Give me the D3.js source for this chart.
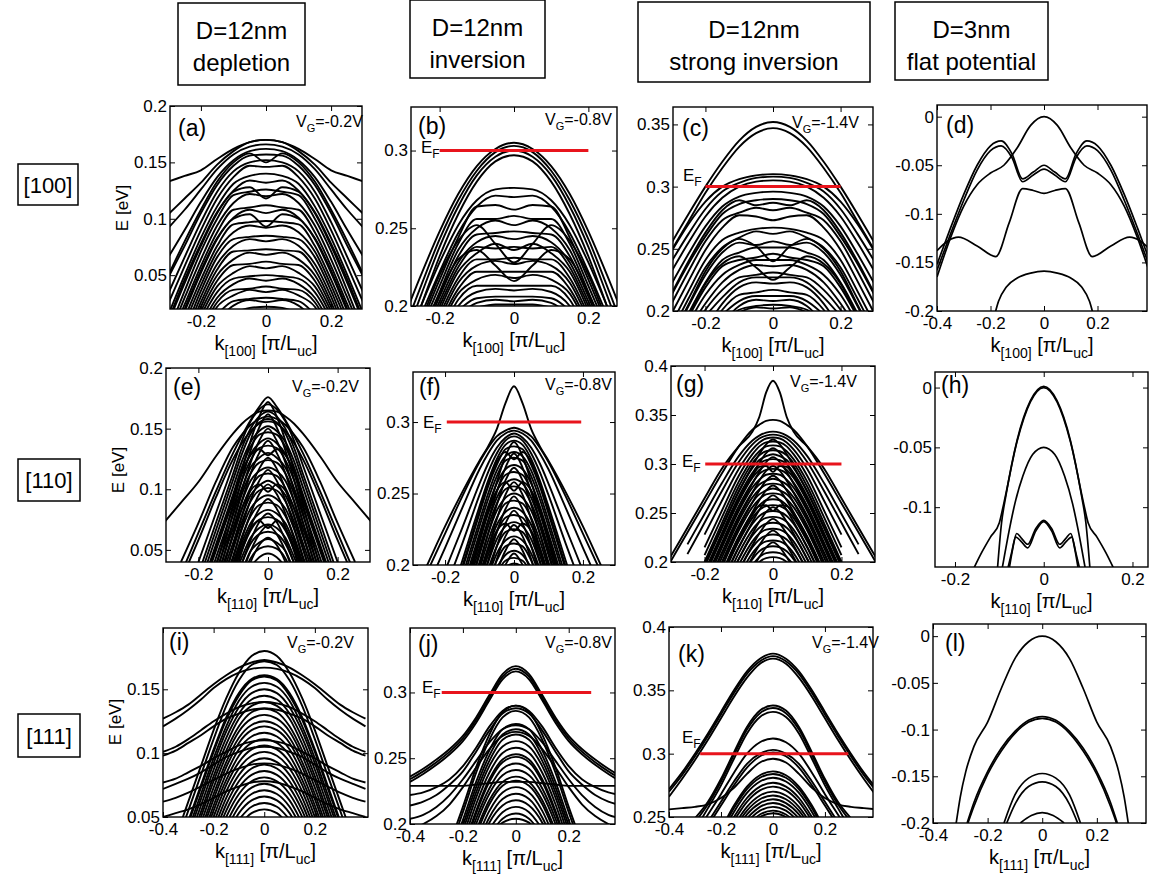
<!DOCTYPE html>
<html>
<head>
<meta charset="utf-8">
<script src="https://cdn.jsdelivr.net/npm/d3@7"></script>
<style>
body { margin: 0; background: #fff; }
svg { font-family: "Liberation Sans", Arial, sans-serif; }
</style>
</head>
<body>
<div id="chart"></div>
<script>
// ---- text ----
const columnTitles = [['D=12nm', 'depletion'], ['D=12nm', 'inversion'], ['D=12nm', 'strong inversion'], ['D=3nm', 'flat potential']];
const rowLabels = ['[100]', '[110]', '[111]'];
const gateVoltages = ['-0.2V', '-0.8V', '-1.4V'];
const fermiLevel = 0.3;

// ---- ticks ----
const kTicks3 = [-0.2, 0, 0.2];
const kTicks4 = [-0.4, -0.2, 0, 0.2];

// ---- bands: energies (eV) on a half k grid, k >= 0, bands are symmetric in k ----
const kGridA = [0, 0.05, 0.1, 0.15, 0.2, 0.25, 0.3];
const bandsA = [
  [0.170, 0.168, 0.162, 0.153, 0.143, 0.138, 0.133],
  [0.170, 0.168, 0.160, 0.148, 0.132, 0.118, 0.104],
  [0.166, 0.164, 0.157, 0.144, 0.126, 0.108, 0.092],
  [0.162, 0.160, 0.152, 0.137, 0.115, 0.090, 0.066],
  [0.157, 0.156, 0.147, 0.130, 0.105, 0.076, 0.048],
  [0.152, 0.150, 0.142, 0.124, 0.097, 0.066, 0.034],
  [0.150, 0.158, 0.150, 0.133, 0.108, 0.080, 0.050],
  [0.146, 0.147, 0.137, 0.118, 0.090, 0.058, 0.025],
  [0.140, 0.138, 0.131, 0.111, 0.083, 0.050, 0.015],
  [0.132, 0.134, 0.125, 0.105, 0.076, 0.043, 0.008],
  [0.126, 0.124, 0.121, 0.100, 0.071, 0.036, 0.000],
  [0.118, 0.128, 0.124, 0.106, 0.078, 0.046, 0.010],
  [0.120, 0.122, 0.114, 0.094, 0.064, 0.030, -0.005],
  [0.112, 0.110, 0.108, 0.088, 0.058, 0.024, -0.010],
  [0.105, 0.108, 0.101, 0.082, 0.052, 0.018, -0.015],
  [0.093, 0.104, 0.100, 0.083, 0.054, 0.020, -0.015],
  [0.098, 0.097, 0.095, 0.076, 0.046, 0.012],
  [0.092, 0.094, 0.088, 0.071, 0.041, 0.007],
  [0.085, 0.084, 0.082, 0.066, 0.036, 0.000],
  [0.080, 0.082, 0.076, 0.060, 0.031, -0.005],
  [0.073, 0.072, 0.071, 0.055, 0.026, -0.010],
  [0.068, 0.070, 0.064, 0.050, 0.022, -0.015],
  [0.062, 0.060, 0.059, 0.045, 0.018],
  [0.056, 0.058, 0.052, 0.040, 0.014],
  [0.050, 0.049, 0.047, 0.035, 0.010],
  [0.045, 0.047, 0.042, 0.030, 0.005],
  [0.040, 0.038, 0.037, 0.026, 0.000],
  [0.035, 0.037, 0.032, 0.022, -0.005],
  [0.030, 0.029, 0.027, 0.015],
  [0.026, 0.028, 0.023, 0.010],
  [0.022, 0.021, 0.016]
];

const kGridB = [0, 0.05, 0.1, 0.15, 0.2, 0.25, 0.3];
const bandsB = [
  [0.305, 0.301, 0.290, 0.272, 0.248, 0.220, 0.190],
  [0.303, 0.299, 0.287, 0.268, 0.243, 0.213, 0.182],
  [0.300, 0.296, 0.284, 0.264, 0.238, 0.207, 0.175],
  [0.297, 0.293, 0.280, 0.259, 0.232, 0.200, 0.168],
  [0.276, 0.275, 0.268, 0.252, 0.228, 0.200, 0.170],
  [0.270, 0.271, 0.264, 0.247, 0.222, 0.194],
  [0.262, 0.265, 0.264, 0.244, 0.217, 0.188],
  [0.228, 0.240, 0.252, 0.242, 0.220, 0.190],
  [0.258, 0.256, 0.256, 0.240, 0.213, 0.185],
  [0.252, 0.255, 0.250, 0.236, 0.209, 0.180],
  [0.248, 0.247, 0.246, 0.232, 0.206, 0.178],
  [0.243, 0.245, 0.241, 0.228, 0.203, 0.175],
  [0.238, 0.237, 0.238, 0.225, 0.200, 0.172],
  [0.236, 0.240, 0.234, 0.222, 0.197],
  [0.216, 0.226, 0.236, 0.230, 0.208, 0.182],
  [0.231, 0.230, 0.230, 0.218, 0.194],
  [0.227, 0.229, 0.226, 0.215, 0.191],
  [0.222, 0.222, 0.222, 0.211, 0.188],
  [0.218, 0.220, 0.217, 0.208, 0.185],
  [0.213, 0.213, 0.213, 0.204, 0.180],
  [0.210, 0.211, 0.209, 0.200, 0.178],
  [0.206, 0.206, 0.205, 0.197],
  [0.203, 0.204, 0.202, 0.194],
  [0.201, 0.201, 0.199]
];

const kGridC = [0, 0.05, 0.1, 0.15, 0.2, 0.25, 0.3];
const bandsC = [
  [0.352, 0.348, 0.337, 0.320, 0.300, 0.278, 0.255],
  [0.347, 0.343, 0.332, 0.315, 0.295, 0.272, 0.249],
  [0.310, 0.309, 0.306, 0.300, 0.288, 0.270, 0.248],
  [0.308, 0.307, 0.303, 0.296, 0.282, 0.262, 0.240],
  [0.305, 0.304, 0.300, 0.291, 0.276, 0.255, 0.232],
  [0.296, 0.295, 0.292, 0.284, 0.268, 0.246, 0.222],
  [0.290, 0.289, 0.286, 0.278, 0.260, 0.238, 0.213],
  [0.287, 0.285, 0.289, 0.281, 0.263, 0.240, 0.214],
  [0.281, 0.283, 0.279, 0.273, 0.256, 0.232, 0.206],
  [0.273, 0.276, 0.277, 0.267, 0.249, 0.224, 0.198],
  [0.267, 0.266, 0.263, 0.257, 0.241, 0.216, 0.190],
  [0.262, 0.264, 0.259, 0.251, 0.235, 0.210, 0.184],
  [0.240, 0.252, 0.258, 0.250, 0.232, 0.205, 0.180],
  [0.256, 0.253, 0.255, 0.247, 0.229, 0.204, 0.178],
  [0.251, 0.251, 0.247, 0.241, 0.223, 0.198],
  [0.246, 0.243, 0.241, 0.236, 0.219, 0.195],
  [0.241, 0.241, 0.237, 0.229, 0.213, 0.190],
  [0.225, 0.235, 0.244, 0.238, 0.222, 0.196],
  [0.236, 0.237, 0.233, 0.223, 0.206, 0.185],
  [0.231, 0.229, 0.227, 0.217, 0.201, 0.180],
  [0.227, 0.227, 0.223, 0.211, 0.196],
  [0.222, 0.223, 0.219, 0.206, 0.185],
  [0.217, 0.215, 0.213, 0.201, 0.180],
  [0.212, 0.212, 0.208, 0.197],
  [0.208, 0.209, 0.204, 0.190],
  [0.205, 0.204, 0.201, 0.188],
  [0.202, 0.203, 0.199]
];

// sparse panels: explicit [k, E] pairs for k >= 0
const bandsD = [
  [[0, 0], [0.05, -0.009], [0.1, -0.032], [0.15, -0.05], [0.2, -0.058], [0.25, -0.07], [0.3, -0.092], [0.35, -0.125], [0.4, -0.165]],
  [[0, -0.05], [0.04, -0.057], [0.08, -0.064], [0.12, -0.038], [0.16, -0.025], [0.2, -0.03], [0.25, -0.05], [0.3, -0.08], [0.35, -0.115], [0.4, -0.152]],
  [[0, -0.054], [0.04, -0.06], [0.08, -0.067], [0.12, -0.042], [0.16, -0.03], [0.2, -0.035], [0.25, -0.055], [0.3, -0.086], [0.35, -0.121], [0.4, -0.158]],
  [[0, -0.079], [0.04, -0.076], [0.08, -0.074], [0.13, -0.109], [0.18, -0.144], [0.25, -0.133], [0.32, -0.124], [0.36, -0.128], [0.4, -0.138]],
  [[0, -0.159], [0.05, -0.161], [0.1, -0.166], [0.14, -0.175], [0.17, -0.19], [0.19, -0.21]]
];

const kGridE = [0, 0.025, 0.05, 0.075, 0.1, 0.15, 0.2, 0.25, 0.3];
const bandsE = [
  [0.165, 0.164, 0.160, 0.154, 0.146, 0.127, 0.106, 0.089, 0.072],
  [0.160, 0.158, 0.153, 0.145, 0.135, 0.106, 0.072, 0.040],
  [0.156, 0.154, 0.148, 0.138, 0.125, 0.093, 0.058, 0.025],
  [0.176, 0.168, 0.157, 0.144, 0.130, 0.098, 0.064, 0.030],
  [0.170, 0.166, 0.156, 0.140, 0.120, 0.080, 0.040],
  [0.164, 0.160, 0.150, 0.134, 0.113, 0.072, 0.030],
  [0.158, 0.155, 0.146, 0.129, 0.108, 0.066, 0.024],
  [0.152, 0.148, 0.139, 0.123, 0.102, 0.060, 0.018],
  [0.147, 0.145, 0.135, 0.118, 0.096, 0.054, 0.012],
  [0.142, 0.138, 0.129, 0.113, 0.091, 0.049, 0.007],
  [0.136, 0.134, 0.124, 0.107, 0.085, 0.043, 0.000],
  [0.128, 0.133, 0.128, 0.114, 0.094, 0.052, 0.010],
  [0.130, 0.126, 0.118, 0.101, 0.079, 0.038],
  [0.124, 0.122, 0.113, 0.096, 0.073, 0.032],
  [0.118, 0.115, 0.107, 0.090, 0.068, 0.026],
  [0.113, 0.111, 0.101, 0.084, 0.062, 0.020],
  [0.107, 0.103, 0.095, 0.078, 0.056, 0.014],
  [0.098, 0.104, 0.099, 0.084, 0.062, 0.020],
  [0.101, 0.099, 0.090, 0.073, 0.051, 0.010],
  [0.095, 0.092, 0.084, 0.067, 0.045, 0.004],
  [0.089, 0.087, 0.078, 0.061, 0.039],
  [0.083, 0.080, 0.072, 0.056, 0.038],
  [0.077, 0.075, 0.066, 0.050, 0.032],
  [0.068, 0.074, 0.068, 0.053, 0.034],
  [0.071, 0.068, 0.060, 0.044, 0.026],
  [0.065, 0.063, 0.055, 0.039],
  [0.059, 0.056, 0.049, 0.032],
  [0.053, 0.051, 0.043, 0.026],
  [0.047, 0.044, 0.036],
  [0.172, 0.160, 0.140, 0.115, 0.088, 0.035],
  [0.162, 0.151, 0.132, 0.108, 0.081, 0.028],
  [0.150, 0.140, 0.122, 0.099, 0.073, 0.020],
  [0.140, 0.130, 0.113, 0.090, 0.064, 0.012],
  [0.126, 0.117, 0.100, 0.078, 0.052, 0.000],
  [0.116, 0.107, 0.091, 0.069, 0.043, 0.000],
  [0.104, 0.096, 0.080, 0.059, 0.034],
  [0.092, 0.084, 0.069, 0.049, 0.024],
  [0.080, 0.073, 0.058, 0.039],
  [0.070, 0.063, 0.049, 0.030],
  [0.060, 0.054, 0.040, 0.020]
];

const kGridF = [0, 0.025, 0.05, 0.075, 0.1, 0.15, 0.2, 0.25, 0.3];
const bandsF = [
  [0.325, 0.313, 0.295, 0.283, 0.273, 0.251, 0.227, 0.201, 0.175],
  [0.296, 0.294, 0.290, 0.282, 0.272, 0.248, 0.222, 0.196, 0.170],
  [0.294, 0.292, 0.287, 0.278, 0.267, 0.240, 0.212, 0.185],
  [0.292, 0.289, 0.282, 0.271, 0.257, 0.226, 0.196, 0.165],
  [0.290, 0.287, 0.278, 0.265, 0.249, 0.215, 0.183],
  [0.287, 0.284, 0.274, 0.259, 0.241, 0.203, 0.165],
  [0.283, 0.281, 0.270, 0.255, 0.236, 0.197],
  [0.274, 0.279, 0.272, 0.257, 0.238, 0.199],
  [0.279, 0.276, 0.266, 0.250, 0.231, 0.192],
  [0.275, 0.273, 0.262, 0.246, 0.227, 0.188],
  [0.270, 0.267, 0.257, 0.241, 0.222, 0.183],
  [0.265, 0.263, 0.252, 0.236, 0.217, 0.178],
  [0.260, 0.257, 0.247, 0.231, 0.212, 0.173],
  [0.252, 0.258, 0.252, 0.238, 0.219, 0.180],
  [0.255, 0.253, 0.243, 0.227, 0.207, 0.168],
  [0.250, 0.247, 0.238, 0.222, 0.202, 0.163],
  [0.245, 0.243, 0.233, 0.217, 0.197],
  [0.240, 0.237, 0.228, 0.212, 0.193],
  [0.235, 0.233, 0.223, 0.207, 0.188],
  [0.230, 0.227, 0.218, 0.202, 0.183],
  [0.224, 0.229, 0.224, 0.210, 0.190],
  [0.225, 0.223, 0.213, 0.197],
  [0.220, 0.217, 0.208, 0.192],
  [0.215, 0.213, 0.203, 0.187],
  [0.210, 0.207, 0.198],
  [0.205, 0.203, 0.194],
  [0.201, 0.199],
  [0.286, 0.276, 0.258, 0.238, 0.216, 0.175],
  [0.278, 0.268, 0.251, 0.231, 0.209, 0.168],
  [0.268, 0.259, 0.242, 0.222, 0.200, 0.160],
  [0.258, 0.249, 0.232, 0.212, 0.190],
  [0.248, 0.239, 0.223, 0.203, 0.181],
  [0.238, 0.229, 0.213, 0.193],
  [0.228, 0.220, 0.204, 0.184],
  [0.218, 0.210, 0.195],
  [0.208, 0.200, 0.186]
];

const kGridG = [0, 0.02, 0.04, 0.06, 0.1, 0.15, 0.2, 0.25, 0.3];
const bandsG = [
  [0.385, 0.373, 0.348, 0.333, 0.318, 0.295, 0.265, 0.235, 0.205],
  [0.345, 0.344, 0.340, 0.335, 0.318, 0.290, 0.260, 0.230, 0.200],
  [0.333, 0.332, 0.329, 0.324, 0.308, 0.280, 0.249, 0.218],
  [0.330, 0.329, 0.326, 0.320, 0.302, 0.272, 0.240, 0.208],
  [0.327, 0.326, 0.322, 0.315, 0.295, 0.262, 0.228],
  [0.323, 0.322, 0.318, 0.310, 0.288, 0.252, 0.215],
  [0.319, 0.318, 0.313, 0.305, 0.282, 0.245, 0.207],
  [0.314, 0.313, 0.309, 0.301, 0.277, 0.239, 0.200],
  [0.310, 0.308, 0.304, 0.296, 0.272, 0.234, 0.195],
  [0.305, 0.304, 0.300, 0.291, 0.267, 0.229, 0.190],
  [0.300, 0.299, 0.294, 0.286, 0.262, 0.224, 0.185],
  [0.292, 0.298, 0.297, 0.288, 0.265, 0.227, 0.188],
  [0.295, 0.294, 0.290, 0.281, 0.257, 0.219, 0.180],
  [0.290, 0.289, 0.284, 0.276, 0.252, 0.214, 0.175],
  [0.285, 0.283, 0.279, 0.271, 0.247, 0.209, 0.170],
  [0.280, 0.279, 0.274, 0.266, 0.242, 0.204, 0.165],
  [0.275, 0.273, 0.269, 0.261, 0.237, 0.199],
  [0.270, 0.269, 0.264, 0.256, 0.232, 0.194],
  [0.264, 0.263, 0.258, 0.250, 0.226, 0.188],
  [0.252, 0.258, 0.257, 0.248, 0.224, 0.186],
  [0.258, 0.257, 0.253, 0.245, 0.221, 0.183],
  [0.252, 0.251, 0.247, 0.239, 0.215, 0.177],
  [0.246, 0.245, 0.241, 0.233, 0.209, 0.171],
  [0.240, 0.239, 0.235, 0.227, 0.203, 0.165],
  [0.234, 0.233, 0.229, 0.221, 0.197],
  [0.228, 0.227, 0.223, 0.215, 0.191],
  [0.222, 0.221, 0.217, 0.209, 0.185],
  [0.216, 0.215, 0.211, 0.203, 0.179],
  [0.210, 0.209, 0.205, 0.197],
  [0.205, 0.204, 0.200, 0.192],
  [0.325, 0.320, 0.310, 0.298, 0.272, 0.235, 0.197],
  [0.316, 0.311, 0.301, 0.289, 0.263, 0.226, 0.188],
  [0.307, 0.302, 0.292, 0.280, 0.254, 0.217, 0.179],
  [0.298, 0.293, 0.283, 0.271, 0.245, 0.208, 0.170],
  [0.288, 0.283, 0.273, 0.261, 0.235, 0.198],
  [0.278, 0.273, 0.263, 0.251, 0.225, 0.188],
  [0.268, 0.263, 0.253, 0.241, 0.215, 0.178],
  [0.256, 0.251, 0.241, 0.229, 0.203, 0.166],
  [0.244, 0.239, 0.229, 0.217, 0.191],
  [0.232, 0.227, 0.217, 0.205, 0.179],
  [0.220, 0.215, 0.205, 0.193]
];

const bandsH = [
  [[0, 0], [0.03, -0.012], [0.06, -0.045], [0.09, -0.097], [0.1, -0.113], [0.12, -0.125], [0.14, -0.138], [0.16, -0.153]],
  [[0, 0.001], [0.03, -0.011], [0.06, -0.044], [0.085, -0.09], [0.095, -0.113], [0.105, -0.155]],
  [[0, -0.05], [0.025, -0.056], [0.047, -0.074], [0.065, -0.097], [0.076, -0.116], [0.094, -0.152]],
  [[0, -0.111], [0.018, -0.118], [0.036, -0.131], [0.05, -0.126], [0.061, -0.122], [0.07, -0.135], [0.078, -0.152]],
  [[0, -0.112], [0.018, -0.12], [0.036, -0.134], [0.05, -0.129], [0.063, -0.125], [0.073, -0.139], [0.082, -0.153]]
];

const kGridI = [0, 0.05, 0.1, 0.15, 0.2, 0.25, 0.3, 0.35, 0.4];
const bandsI = [
  [0.173, 0.171, 0.167, 0.161, 0.154, 0.146, 0.138, 0.132, 0.127],
  [0.167, 0.166, 0.163, 0.158, 0.151, 0.142, 0.134, 0.127, 0.121],
  [0.140, 0.139, 0.136, 0.131, 0.125, 0.118, 0.111, 0.105, 0.101],
  [0.135, 0.134, 0.131, 0.127, 0.121, 0.114, 0.108, 0.102, 0.098],
  [0.110, 0.109, 0.106, 0.101, 0.096, 0.090, 0.085, 0.080, 0.077],
  [0.105, 0.104, 0.101, 0.097, 0.091, 0.085, 0.080, 0.076, 0.072],
  [0.092, 0.091, 0.088, 0.084, 0.079, 0.074, 0.069, 0.065, 0.062],
  [0.078, 0.077, 0.074, 0.070, 0.065, 0.060, 0.056, 0.053, 0.050],
  [0.180, 0.176, 0.163, 0.143, 0.118, 0.090, 0.062, 0.034],
  [0.172, 0.169, 0.157, 0.137, 0.111, 0.083, 0.055, 0.027],
  [0.161, 0.158, 0.147, 0.128, 0.103, 0.075, 0.047],
  [0.160, 0.157, 0.145, 0.126, 0.101, 0.073, 0.045],
  [0.155, 0.152, 0.141, 0.121, 0.096, 0.068, 0.040],
  [0.150, 0.147, 0.136, 0.117, 0.092, 0.064, 0.036],
  [0.145, 0.142, 0.131, 0.112, 0.087, 0.059, 0.031],
  [0.140, 0.137, 0.127, 0.107, 0.082, 0.054, 0.026],
  [0.135, 0.132, 0.121, 0.102, 0.078, 0.050, 0.022],
  [0.130, 0.127, 0.117, 0.098, 0.073, 0.045],
  [0.125, 0.122, 0.112, 0.093, 0.068, 0.040],
  [0.121, 0.118, 0.108, 0.089, 0.064, 0.036],
  [0.116, 0.113, 0.103, 0.084, 0.059, 0.031],
  [0.111, 0.108, 0.098, 0.079, 0.055, 0.027],
  [0.106, 0.103, 0.093, 0.075, 0.050, 0.022],
  [0.101, 0.098, 0.088, 0.070, 0.045],
  [0.096, 0.093, 0.083, 0.065, 0.040],
  [0.091, 0.088, 0.078, 0.060, 0.035],
  [0.086, 0.083, 0.073, 0.055, 0.030],
  [0.081, 0.078, 0.068, 0.050, 0.025],
  [0.076, 0.073, 0.063, 0.045],
  [0.071, 0.068, 0.058, 0.040],
  [0.066, 0.063, 0.053, 0.035],
  [0.061, 0.058, 0.048],
  [0.056, 0.053, 0.043]
];

const kGridJ = [0, 0.05, 0.1, 0.15, 0.2, 0.25, 0.3, 0.35, 0.4];
const bandsJ = [
  [0.320, 0.314, 0.298, 0.281, 0.267, 0.257, 0.249, 0.242, 0.236],
  [0.318, 0.312, 0.296, 0.279, 0.265, 0.255, 0.247, 0.240, 0.234],
  [0.316, 0.310, 0.294, 0.277, 0.263, 0.253, 0.245, 0.238, 0.232],
  [0.290, 0.286, 0.274, 0.258, 0.244, 0.234, 0.228, 0.224, 0.222],
  [0.288, 0.284, 0.271, 0.255, 0.240, 0.230, 0.222, 0.217, 0.214],
  [0.275, 0.272, 0.262, 0.248, 0.234, 0.222, 0.213, 0.207, 0.204],
  [0.270, 0.267, 0.257, 0.243, 0.228, 0.215, 0.206, 0.200, 0.196],
  [0.232, 0.232, 0.231, 0.230, 0.229, 0.229, 0.229, 0.229, 0.229],
  [0.290, 0.285, 0.268, 0.243, 0.213, 0.185],
  [0.286, 0.281, 0.264, 0.239, 0.209, 0.180],
  [0.276, 0.272, 0.256, 0.232, 0.203, 0.175],
  [0.272, 0.268, 0.252, 0.228, 0.199, 0.170],
  [0.268, 0.264, 0.248, 0.224, 0.195],
  [0.263, 0.259, 0.244, 0.220, 0.190],
  [0.258, 0.254, 0.239, 0.215, 0.185],
  [0.253, 0.249, 0.234, 0.210, 0.180],
  [0.251, 0.247, 0.232, 0.208, 0.178],
  [0.246, 0.242, 0.227, 0.204, 0.174],
  [0.241, 0.237, 0.223, 0.200, 0.170],
  [0.236, 0.232, 0.218, 0.195],
  [0.233, 0.229, 0.215, 0.192],
  [0.228, 0.224, 0.210, 0.187],
  [0.223, 0.219, 0.205, 0.182],
  [0.218, 0.214, 0.201, 0.178],
  [0.213, 0.209, 0.196],
  [0.208, 0.204, 0.191],
  [0.204, 0.201, 0.188]
];

const kGridK = [0, 0.05, 0.1, 0.15, 0.2, 0.25, 0.3, 0.35, 0.4];
const bandsK = [
  [0.379, 0.375, 0.365, 0.350, 0.333, 0.316, 0.300, 0.285, 0.272],
  [0.377, 0.373, 0.363, 0.348, 0.331, 0.314, 0.298, 0.283, 0.270],
  [0.375, 0.371, 0.360, 0.345, 0.328, 0.311, 0.295, 0.280, 0.266],
  [0.296, 0.293, 0.284, 0.273, 0.265, 0.260, 0.258, 0.257, 0.256],
  [0.338, 0.334, 0.321, 0.301, 0.280, 0.262, 0.249],
  [0.336, 0.332, 0.319, 0.299, 0.278, 0.260, 0.246],
  [0.333, 0.329, 0.316, 0.296, 0.275, 0.257, 0.240],
  [0.312, 0.309, 0.300, 0.285, 0.268, 0.252, 0.236],
  [0.303, 0.300, 0.292, 0.278, 0.262, 0.246],
  [0.301, 0.298, 0.289, 0.275, 0.259, 0.243],
  [0.286, 0.283, 0.274, 0.259, 0.240],
  [0.284, 0.281, 0.272, 0.257, 0.238],
  [0.281, 0.278, 0.269, 0.254, 0.235],
  [0.277, 0.274, 0.265, 0.250, 0.232],
  [0.274, 0.271, 0.262, 0.247],
  [0.270, 0.267, 0.258, 0.243],
  [0.267, 0.264, 0.255, 0.240],
  [0.264, 0.261, 0.252, 0.236],
  [0.261, 0.258, 0.249],
  [0.258, 0.255, 0.246],
  [0.255, 0.252, 0.243],
  [0.253, 0.250, 0.241]
];

const bandsL = [
  [[0, 0], [0.05, -0.006], [0.1, -0.024], [0.15, -0.056], [0.2, -0.092], [0.25, -0.118], [0.28, -0.145], [0.3, -0.172], [0.315, -0.2]],
  [[0, -0.086], [0.05, -0.09], [0.1, -0.102], [0.15, -0.12], [0.2, -0.145], [0.25, -0.178], [0.275, -0.2]],
  [[0, -0.088], [0.05, -0.092], [0.1, -0.104], [0.15, -0.123], [0.2, -0.148], [0.25, -0.182], [0.272, -0.2]],
  [[0, -0.147], [0.05, -0.152], [0.1, -0.17], [0.14, -0.2]],
  [[0, -0.156], [0.05, -0.161], [0.1, -0.18], [0.13, -0.2]],
  [[0, -0.189], [0.04, -0.192], [0.08, -0.2]]
];

// ---- layout ----
const W = 1156, H = 874;
const panels = [
  { id: 'a', row: 0, col: 0, L: 170, R: 362, T: 106, B: 309, xd: [-0.295, 0.295], yd: [0.02, 0.2], xt: kTicks3, yt: [0.05, 0.1, 0.15, 0.2], grid: kGridA, bands: bandsA, lab: [8, 30], vg: [296, 127] },
  { id: 'b', row: 0, col: 1, L: 411, R: 617, T: 107, B: 306, xd: [-0.277, 0.277], yd: [0.2, 0.328], xt: kTicks3, yt: [0.2, 0.25, 0.3], grid: kGridB, bands: bandsB, lab: [7, 27], vg: [545, 125], ef: [-0.2, 0.2], efLab: [421, 153] },
  { id: 'c', row: 0, col: 2, L: 673, R: 873, T: 107, B: 311, xd: [-0.296, 0.296], yd: [0.2, 0.364], xt: kTicks3, yt: [0.2, 0.25, 0.3, 0.35], grid: kGridC, bands: bandsC, lab: [9, 29], vg: [792, 128], ef: [-0.2, 0.2], efLab: [683, 181] },
  { id: 'd', row: 0, col: 3, L: 937, R: 1147, T: 105, B: 311, xd: [-0.4, 0.385], yd: [-0.2, 0.012], xt: kTicks4, yt: [-0.2, -0.15, -0.1, -0.05, 0], bands: bandsD, lab: [9, 28] },
  { id: 'e', row: 1, col: 0, L: 166, R: 370, T: 368, B: 562, xd: [-0.293, 0.293], yd: [0.04, 0.2], xt: kTicks3, yt: [0.05, 0.1, 0.15, 0.2], grid: kGridE, bands: bandsE, lab: [7, 27], vg: [292, 392] },
  { id: 'f', row: 1, col: 1, L: 413, R: 615, T: 372, B: 565, xd: [-0.293, 0.293], yd: [0.2, 0.335], xt: kTicks3, yt: [0.2, 0.25, 0.3], grid: kGridF, bands: bandsF, lab: [6, 23], vg: [545, 390], ef: [-0.195, 0.195], efLab: [423, 428] },
  { id: 'g', row: 1, col: 2, L: 671, R: 875, T: 366, B: 562, xd: [-0.298, 0.298], yd: [0.2, 0.4], xt: kTicks3, yt: [0.2, 0.25, 0.3, 0.35, 0.4], grid: kGridG, bands: bandsG, lab: [5, 26], vg: [790, 387], ef: [-0.198, 0.2], efLab: [682, 467] },
  { id: 'h', row: 1, col: 3, L: 935, R: 1148, T: 372, B: 567, xd: [-0.245, 0.235], yd: [-0.15, 0.013], xt: kTicks3, yt: [-0.1, -0.05, 0], bands: bandsH, lab: [6, 21] },
  { id: 'i', row: 2, col: 0, L: 163, R: 368, T: 628, B: 817, xd: [-0.4, 0.41], yd: [0.05, 0.198], xt: kTicks4, yt: [0.05, 0.1, 0.15], grid: kGridI, bands: bandsI, lab: [6, 22], vg: [287, 648] },
  { id: 'j', row: 2, col: 1, L: 410, R: 615, T: 628, B: 824, xd: [-0.4, 0.375], yd: [0.2, 0.349], xt: kTicks4, yt: [0.2, 0.25, 0.3], grid: kGridJ, bands: bandsJ, lab: [8, 24], vg: [545, 648], ef: [-0.28, 0.285], efLab: [422, 693] },
  { id: 'k', row: 2, col: 2, L: 669, R: 873, T: 627, B: 817, xd: [-0.4, 0.385], yd: [0.25, 0.4], xt: kTicks4, yt: [0.25, 0.3, 0.35, 0.4], grid: kGridK, bands: bandsK, lab: [9, 35], vg: [812, 648], ef: [-0.28, 0.29], efLab: [682, 743] },
  { id: 'l', row: 2, col: 3, L: 933, R: 1146, T: 624, B: 823, xd: [-0.4, 0.38], yd: [-0.2, 0.013], xt: kTicks4, yt: [-0.2, -0.15, -0.1, -0.05, 0], bands: bandsL, lab: [12, 27] }
];
const dirs = ['100', '110', '111'];
const headerBoxes = [[178, 3, 127, 82], [410, 0, 135, 78], [638, 2, 232, 80], [895, 2, 153, 78]];
const rowBoxes = [[18, 164, 60, 41], [18, 459, 62, 42], [18, 714, 62, 43]];
const eLabelY = [208, 470, 722];

const svg = d3.select('#chart').append('svg')
  .attr('width', W).attr('height', H)
  .attr('viewBox', `0 0 ${W} ${H}`);
svg.append('rect').attr('width', W).attr('height', H).attr('fill', '#fff');

// column headers
headerBoxes.forEach((b, i) => {
  const g = svg.append('g');
  g.append('rect').attr('x', b[0]).attr('y', b[1]).attr('width', b[2]).attr('height', b[3])
    .attr('fill', 'none').attr('stroke', '#000').attr('stroke-width', 1.5);
  columnTitles[i].forEach((t, j) => {
    g.append('text').attr('x', b[0] + b[2] / 2).attr('y', b[1] + 36 + j * 32)
      .attr('text-anchor', 'middle').attr('font-size', 24).text(t);
  });
});

// row labels
rowBoxes.forEach((b, i) => {
  svg.append('rect').attr('x', b[0]).attr('y', b[1]).attr('width', b[2]).attr('height', b[3])
    .attr('fill', 'none').attr('stroke', '#000').attr('stroke-width', 1.5);
  svg.append('text').attr('x', b[0] + b[2] / 2).attr('y', b[1] + b[3] / 2 + 8)
    .attr('text-anchor', 'middle').attr('font-size', 22).text(rowLabels[i]);
});

const fmt = v => String(v);

function mirror(pairs) {
  const neg = pairs.filter(p => p[0] > 0).map(p => [-p[0], p[1]]).reverse();
  return neg.concat(pairs);
}

panels.forEach(p => {
  const x = d3.scaleLinear().domain(p.xd).range([p.L, p.R]);
  const y = d3.scaleLinear().domain(p.yd).range([p.B, p.T]);
  const g = svg.append('g').attr('class', 'panel-' + p.id);

  g.append('clipPath').attr('id', 'clip-' + p.id)
    .append('rect').attr('x', p.L).attr('y', p.T).attr('width', p.R - p.L).attr('height', p.B - p.T);

  const line = d3.line().x(d => x(d[0])).y(d => y(d[1])).curve(d3.curveMonotoneX);
  const series = p.bands.map(b => p.grid ? mirror(b.map((e, i) => [p.grid[i], e])) : mirror(b));

  g.append('g').attr('clip-path', `url(#clip-${p.id})`)
    .selectAll('path').data(series).join('path')
    .attr('d', line)
    .attr('fill', 'none')
    .attr('stroke', '#000')
    .attr('stroke-width', p.grid ? 1.9 : 1.7)
    .attr('stroke-linejoin', 'round');

  if (p.ef) {
    g.append('line')
      .attr('x1', x(p.ef[0])).attr('x2', x(p.ef[1]))
      .attr('y1', y(fermiLevel)).attr('y2', y(fermiLevel))
      .attr('stroke', '#e8141c').attr('stroke-width', 3);
    const t = g.append('text').attr('x', p.efLab[0]).attr('y', p.efLab[1]).attr('font-size', 17);
    t.append('tspan').text('E');
    t.append('tspan').attr('font-size', 12).attr('dy', 5).text('F');
  }

  // axes, MATLAB style: inward ticks on all four sides
  const styleAxis = sel => {
    sel.select('.domain').remove();
    sel.selectAll('line').attr('stroke', '#000').attr('stroke-width', 1);
    sel.selectAll('text').attr('fill', '#000').attr('font-size', 17)
      .attr('font-family', '"Liberation Sans", Arial, sans-serif');
  };
  g.append('g').attr('transform', `translate(0,${p.B})`)
    .call(d3.axisBottom(x).tickValues(p.xt).tickSizeInner(-5).tickSizeOuter(0).tickPadding(6).tickFormat(fmt))
    .call(styleAxis);
  g.append('g').attr('transform', `translate(0,${p.T})`)
    .call(d3.axisTop(x).tickValues(p.xt).tickSizeInner(-5).tickSizeOuter(0).tickFormat(''))
    .call(styleAxis);
  g.append('g').attr('transform', `translate(${p.L},0)`)
    .call(d3.axisLeft(y).tickValues(p.yt).tickSizeInner(-5).tickSizeOuter(0).tickPadding(3).tickFormat(fmt))
    .call(styleAxis);
  g.append('g').attr('transform', `translate(${p.R},0)`)
    .call(d3.axisRight(y).tickValues(p.yt).tickSizeInner(-5).tickSizeOuter(0).tickFormat(''))
    .call(styleAxis);

  g.append('rect').attr('x', p.L).attr('y', p.T).attr('width', p.R - p.L).attr('height', p.B - p.T)
    .attr('fill', 'none').attr('stroke', '#000').attr('stroke-width', 1.4);

  // panel letter
  g.append('text').attr('x', p.L + p.lab[0]).attr('y', p.T + p.lab[1])
    .attr('font-size', 23).text(`(${p.id})`);

  // gate voltage
  if (p.vg) {
    const t = g.append('text').attr('x', p.vg[0]).attr('y', p.vg[1]).attr('font-size', 16);
    t.append('tspan').text('V');
    t.append('tspan').attr('font-size', 11).attr('dy', 5).text('G');
    t.append('tspan').attr('dy', -5).text('=' + gateVoltages[p.col]);
  }

  // x label
  const xl = g.append('text').attr('x', (p.L + p.R) / 2).attr('y', p.B + 41)
    .attr('text-anchor', 'middle').attr('font-size', 20);
  xl.append('tspan').text('k');
  xl.append('tspan').attr('font-size', 14).attr('dy', 6).text(`[${dirs[p.row]}]`);
  xl.append('tspan').attr('dy', -6).text(' [\u03C0/L');
  xl.append('tspan').attr('font-size', 14).attr('dy', 6).text('uc');
  xl.append('tspan').attr('dy', -6).text(']');

  // y label on the first column
  if (p.col === 0) {
    g.append('text')
      .attr('transform', `translate(${p.L - 42},${eLabelY[p.row]}) rotate(-90)`)
      .attr('text-anchor', 'middle').attr('font-size', 17).text('E [eV]');
  }
});
</script>
</body>
</html>
